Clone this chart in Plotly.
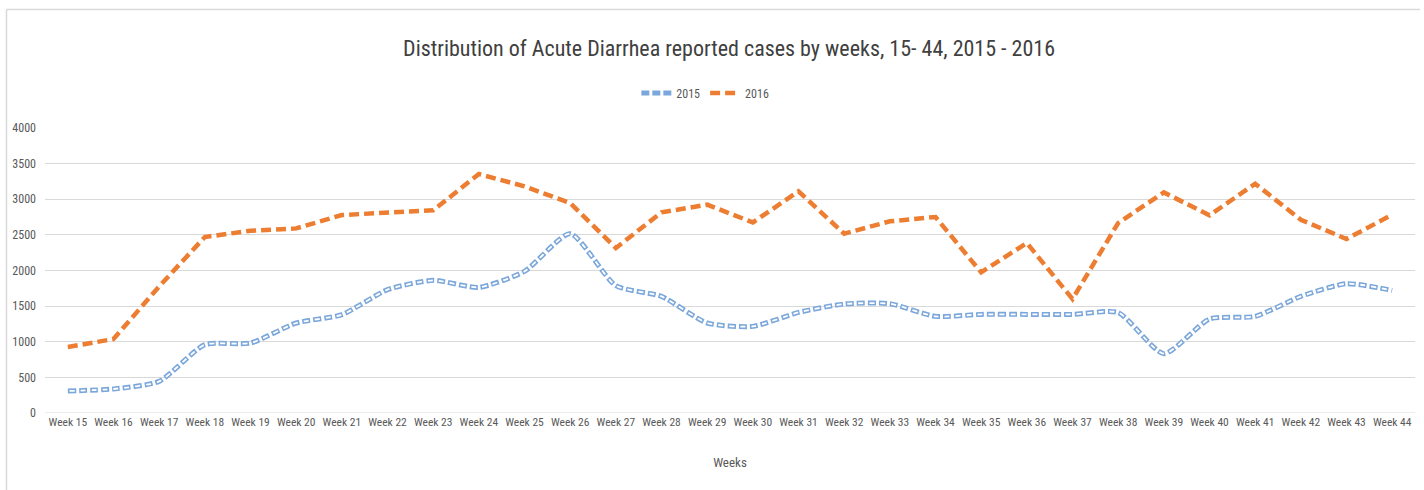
import plotly.graph_objects as go

weeks = [f"Week {i}" for i in range(15, 45)]
cases_2015 = [309, 337, 444, 959, 982, 1263, 1380, 1731, 1862, 1763,
              1988, 2517, 1787, 1637, 1263, 1216, 1412, 1530, 1534, 1356,
              1384, 1384, 1384, 1410, 832, 1319, 1356, 1637, 1815, 1721]
cases_2016 = [926, 1038, 1777, 2470, 2558, 2591, 2779, 2807, 2844, 3354,
              3181, 2947, 2316, 2816, 2924, 2675, 3111, 2517, 2690, 2751,
              1974, 2386, 1600, 2667, 3096, 2774, 3218, 2713, 2442, 2783]
y_ticks = [0, 500, 1000, 1500, 2000, 2500, 3000, 3500, 4000]

FONT = "Liberation Sans Narrow, Arial Narrow, Roboto Condensed, Roboto, sans-serif"
BLUE = "#7BA7DB"
ORANGE = "#ED7D31"
GREY = "#595959"

fig = go.Figure()
# 2015: outlined dashed smooth line (blue outer + white inner)
fig.add_trace(go.Scatter(x=weeks, y=cases_2015, mode="lines", name="2015",
                         line=dict(color=BLUE, width=5, shape="spline", smoothing=0.6, dash="8px,3px"),
                         legendgroup="2015"))
fig.add_trace(go.Scatter(x=weeks, y=cases_2015, mode="lines", name="2015",
                         line=dict(color="white", width=1.8, shape="spline", smoothing=0.6,
                                   dash="0px,1.5px,5px,4.5px"),
                         legendgroup="2015", showlegend=False, hoverinfo="skip"))
fig.add_trace(go.Scatter(x=weeks, y=cases_2016, mode="lines", name="2016",
                         line=dict(color=ORANGE, width=4.5, dash="10px,5px")))

fig.update_layout(
    width=1424, height=490,
    margin=dict(l=45, r=9, t=128, b=77),
    paper_bgcolor="white", plot_bgcolor="white",
    font=dict(family=FONT, color=GREY, size=12),
    title=dict(text="Distribution of Acute Diarrhea reported cases by weeks, 15- 44, 2015 - 2016",
               x=0.512, xanchor="center", y=0.902, yanchor="middle",
               font=dict(family=FONT, size=22, color="#404040")),
    legend=dict(orientation="h", x=0.482, xanchor="center", y=1.123, yanchor="middle",
                font=dict(family=FONT, size=12, color=GREY), itemwidth=30),
    xaxis=dict(type="category", range=[-0.5, 29.5], showgrid=False, showline=False,
               ticks="", tickfont=dict(family=FONT, size=11.5, color=GREY),
               title=dict(text="Weeks", font=dict(family=FONT, size=13, color=GREY), standoff=30)),
    yaxis=dict(range=[0, 4000], tickvals=y_ticks, showgrid=True, gridcolor="#D9D9D9", gridwidth=1,
               zeroline=False, showline=False, ticks="", ticklabelstandoff=8,
               tickfont=dict(family=FONT, size=12, color=GREY)),
    showlegend=True,
)
fig.update_xaxes(zeroline=False)
# zero gridline
fig.add_shape(type="line", xref="paper", yref="y", x0=0, x1=1, y0=0, y1=0,
              line=dict(color="#D9D9D9", width=1), layer="below")
# outer chart border (top and left)
fig.add_shape(type="line", xref="paper", yref="paper", x0=-0.0281, x1=1.0036, y0=1.4158, y1=1.4158,
              line=dict(color="#D9D9D9", width=1.5))
fig.add_shape(type="line", xref="paper", yref="paper", x0=-0.0281, x1=-0.0281, y0=1.4158, y1=-0.3,
              line=dict(color="#D9D9D9", width=1.5))

fig.write_html("out.html", config={"displayModeBar": False},
               post_script="document.body.style.margin='0';")
